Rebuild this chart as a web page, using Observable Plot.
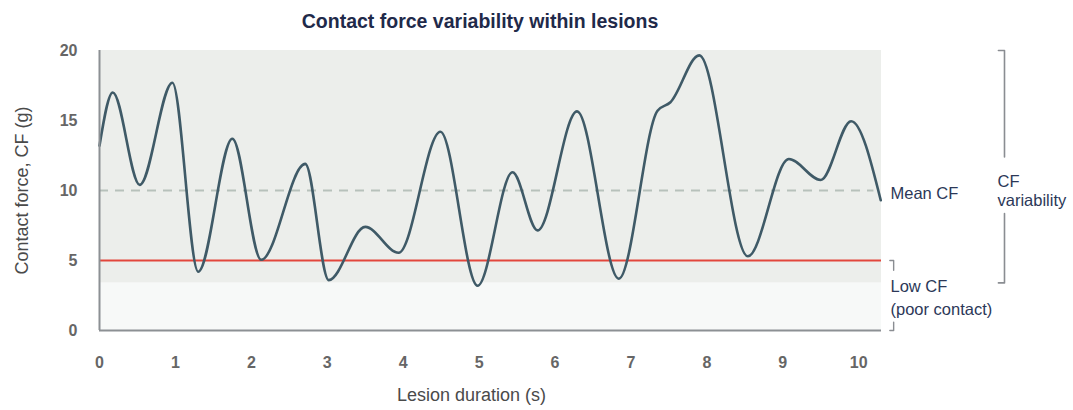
<!DOCTYPE html>
<html>
<head>
<meta charset="utf-8">
<script src="https://cdn.jsdelivr.net/npm/d3@7"></script>
<script src="https://cdn.jsdelivr.net/npm/@observablehq/plot@0.6"></script>
<style>
  html, body { margin: 0; padding: 0; background: #ffffff; }
  #title {
    width: 960px; height: 36px; box-sizing: border-box; padding-top: 12px;
    text-align: center; font: bold 19.5px/19.5px "Liberation Sans", Arial, sans-serif;
    color: #1f2a4a;
  }
</style>
</head>
<body>
<div id="title">Contact force variability within lesions</div>
<div id="chart"></div>
<script>
// ---- data ----
const times  = [0, 0.175, 0.53, 0.96, 1.30, 1.75, 2.13, 2.71, 3.02, 3.50, 3.94, 4.49, 4.98, 5.44, 5.77, 6.29, 6.84, 7.35, 7.52, 7.90, 8.54, 9.08, 9.50, 9.90, 10.29];
const forces = [13.2, 17.0, 10.4, 17.7, 4.2, 13.7, 5.05, 11.9, 3.6, 7.4, 5.55, 14.2, 3.2, 11.3, 7.15, 15.65, 3.7, 15.7, 16.3, 19.65, 5.3, 12.25, 10.75, 14.95, 9.3];
const xTicks = [0, 1, 2, 3, 4, 5, 6, 7, 8, 9, 10];
const yTicks = [0, 5, 10, 15, 20];
const xMax = 10.3;
const yMax = 20;
const meanCF = 10;
const lowCF = 5;
const variabilityBand = [3.4, 20];
const meanEnd = 10.2;
const bracketX = [11.84, 11.92];
const bracketBreak = [12.4, 8.35];
const lowBracketX = [10.41, 10.46];
const lowBracketBreak = [4.3, 0.6];

const data = times.map((t, i) => ({t, f: forces[i]}));
const font = '"Liberation Sans", Arial, sans-serif';
const navy = "#2c3858";
const axisGray = "#8c9094";

const bigBracket = [
  [{x: bracketX[0], y: variabilityBand[1]}, {x: bracketX[1], y: variabilityBand[1]}, {x: bracketX[1], y: bracketBreak[0]}],
  [{x: bracketX[1], y: bracketBreak[1]}, {x: bracketX[1], y: variabilityBand[0]}, {x: bracketX[0], y: variabilityBand[0]}]
];
const lowBracket = [
  [{x: lowBracketX[0], y: lowCF}, {x: lowBracketX[1], y: lowCF}, {x: lowBracketX[1], y: lowBracketBreak[0]}],
  [{x: lowBracketX[1], y: lowBracketBreak[1]}, {x: lowBracketX[1], y: 0}, {x: lowBracketX[0], y: 0}]
];

const chart = Plot.plot({
  width: 1073,
  height: 374,
  marginLeft: 99,
  marginRight: 192,
  marginTop: 14,
  marginBottom: 80,
  style: {fontFamily: font, background: "transparent", overflow: "visible"},
  x: {domain: [0, xMax]},
  y: {domain: [0, yMax]},
  marks: [
    Plot.rect([0], {x1: 0, x2: xMax, y1: 0, y2: variabilityBand[0], fill: "#f7f9f8"}),
    Plot.rect([0], {x1: 0, x2: xMax, y1: variabilityBand[0], y2: variabilityBand[1], fill: "#eceeeb"}),
    Plot.ruleY([meanCF], {x1: 0, x2: meanEnd, stroke: "#b7c1bb", strokeWidth: 2.2, strokeDasharray: "9,7"}),
    Plot.ruleY([lowCF], {x1: 0, x2: xMax, stroke: "#e2463c", strokeWidth: 2}),
    Plot.line(data, {x: "t", y: "f", curve: "monotone-x", stroke: "#3f5a67", strokeWidth: 2.6, strokeLinecap: "round"}),
    Plot.ruleX([0], {y1: 0, y2: yMax, stroke: axisGray, strokeWidth: 2}),
    Plot.ruleY([0], {x1: 0, x2: xMax, stroke: axisGray, strokeWidth: 2}),
    Plot.axisX({ticks: xTicks, tickSize: 0, tickPadding: 26, fontSize: 16, fontWeight: 600, color: "#666", label: null}),
    Plot.axisY({ticks: yTicks, tickSize: 0, tickPadding: 22, fontSize: 16, fontWeight: 600, color: "#666", label: null}),
    Plot.text(["Lesion duration (s)"], {x: 4.9, frameAnchor: "bottom", dy: 70, fontSize: 18, fill: "#4a4a4a"}),
    Plot.text(["Contact force, CF (g)"], {y: meanCF, frameAnchor: "left", textAnchor: "middle", dx: -77, rotate: -90, fontSize: 18, fill: "#4a4a4a"}),
    Plot.text(["Mean CF"], {x: xMax, y: 9.8, dx: 9, textAnchor: "start", fontSize: 16.5, fill: navy}),
    Plot.text(["CF"], {x: xMax, y: 10.6, dx: 116, textAnchor: "start", fontSize: 16.5, fill: navy}),
    Plot.text(["variability"], {x: xMax, y: 9.3, dx: 116, textAnchor: "start", fontSize: 16.5, fill: navy}),
    Plot.text(["Low CF"], {x: xMax, y: 3.15, dx: 9, textAnchor: "start", fontSize: 16.5, fill: navy}),
    Plot.text(["(poor contact)"], {x: xMax, y: 1.45, dx: 9, textAnchor: "start", fontSize: 16.5, fill: navy}),
    ...bigBracket.map(seg => Plot.line(seg, {x: "x", y: "y", stroke: "#8a8d92", strokeWidth: 1.6})),
    ...lowBracket.map(seg => Plot.line(seg, {x: "x", y: "y", stroke: "#8a8d92", strokeWidth: 1.4}))
  ]
});
document.getElementById("chart").appendChild(chart);
</script>
</body>
</html>
